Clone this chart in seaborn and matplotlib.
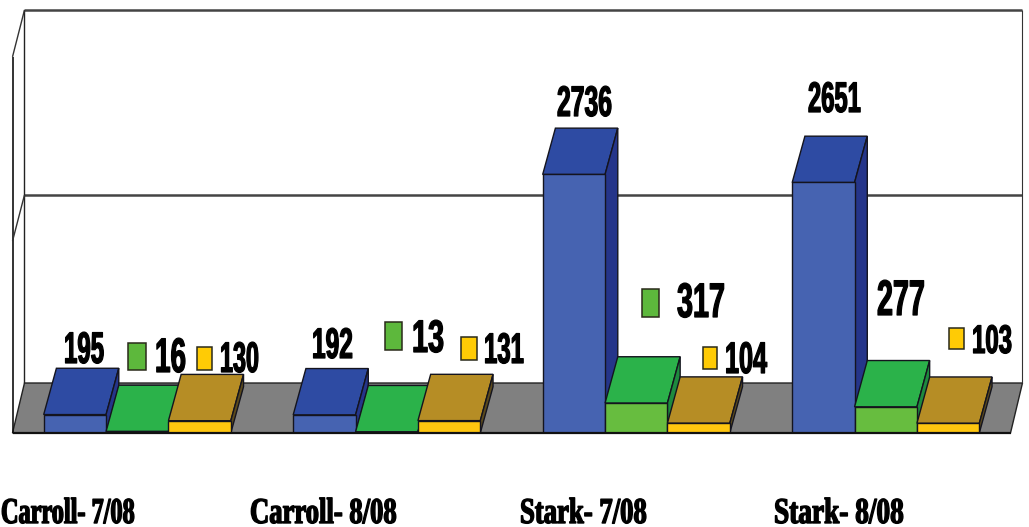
import matplotlib
matplotlib.use("Agg")
import matplotlib.pyplot as plt
import pandas as pd
import seaborn as sns
from matplotlib.patches import Polygon, Rectangle
from matplotlib.patheffects import AbstractPathEffect
from matplotlib.transforms import Affine2D

# ---------- data ----------
sites = ["Carroll- 7/08", "Carroll- 8/08", "Stark- 7/08", "Stark- 8/08"]
series_names = ["Series A", "Series B", "Series C"]
series_a = [195, 192, 2736, 2651]
series_b = [16, 13, 317, 277]
series_c = [130, 131, 104, 103]

# ---------- style ----------
W, H = 1029, 527
FRONT = ["#4663B1", "#67BD3F", "#FFC60F"]
TOP = ["#2E4BA3", "#2BB24A", "#B68D25"]
SIDE = ["#25358A", "#1E8A3E", "#5C4A1C"]
KEY_GREEN, KEY_YELLOW = "#5DB83C", "#FFCB05"
EDGE = "#14141E"
DEPTH_X, DEPTH_Y = 0.051, 490          # bar depth, in axis units
FRAME_X = 0.048
FLOOR_DEPTH, TOP_DEPTH = 529, 496      # frame depth, in axis units
WALL_TOP, GRID_BACK, GRID_FRONT = 3980, 2519, 2030

# label boxes in image pixels: left, right, baseline, top
label_a = [(64, 104, 363, 332), (312, 353, 358, 328), (557, 612, 116, 86), (808, 861, 112, 82)]
label_b = [(155, 186, 372, 338), (412, 444, 352, 320), (677, 725, 317, 283), (877, 925, 315, 280)]
label_c = [(220, 259, 372, 342), (484, 524, 363, 333), (725, 767, 373, 342), (972, 1012, 353, 325)]
# legend keys in image pixels: left, right, top, bottom
keys_b = [(128, 146, 343, 370), (385, 402, 322, 350), (642, 659, 289, 317), None]
keys_c = [(197, 212, 347, 370), (461, 477, 337, 360), (703, 717, 347, 369), (949, 964, 328, 349)]
# tick label boxes: left, right
tick_boxes = [(1, 135), (250, 397), (520, 647), (774, 904)]
TICK_BASE, TICK_CAP = 523, 499


class Stretch(AbstractPathEffect):
    """Draw text taller than its font size, with a thin outline."""
    def __init__(self, sy, lw=0.0):
        super().__init__()
        self.sy, self.lw = sy, lw

    def draw_path(self, renderer, gc, tpath, affine, rgbFace=None):
        gc0 = renderer.new_gc()
        gc0.copy_properties(gc)
        gc0.set_linewidth(self.lw)
        gc0.set_foreground(rgbFace if rgbFace is not None else "black")
        renderer.draw_path(gc0, tpath, Affine2D().scale(1, self.sy) + affine, rgbFace)
        gc0.restore()


sns.set_theme(style="white")
fig = plt.figure(figsize=(W / 100, H / 100), dpi=100, facecolor="white")
ax = fig.add_axes([12.5 / W, (H - 433) / H, (1010.5 - 12.5) / W, (433 - 55) / H])

df = pd.DataFrame({
    "site": sites * 3,
    "series": [n for n in series_names for _ in sites],
    "count": series_a + series_b + series_c,
})
sns.barplot(data=df, x="site", y="count", hue="series", palette=FRONT, saturation=1,
            width=0.75, gap=0, dodge=True, legend=False, edgecolor=EDGE, linewidth=1, ax=ax)
ax.set_xlim(-0.5, 3.5)
ax.set_ylim(0, 4000)
ax.set_xlabel("")
ax.set_ylabel("")
ax.set_yticks([])
ax.patch.set_visible(False)
for s in ax.spines.values():
    s.set_visible(False)

# ---------- frame ----------
x0, x1 = -0.5, 3.5
def frame_line(xs, ys, color="#111111", lw=1.0, z=1.5):
    ax.plot(xs, ys, color=color, lw=lw, clip_on=False, zorder=z, solid_capstyle="butt")

ax.add_patch(Polygon([(x0, 0), (x1, 0), (x1 + FRAME_X, FLOOR_DEPTH), (x0 + FRAME_X, FLOOR_DEPTH)],
                     closed=True, fc="#808080", ec="#222222", lw=1.0, clip_on=False, zorder=1))
frame_line([x0 + FRAME_X, x1 + FRAME_X], [WALL_TOP + TOP_DEPTH] * 2, "#444444", 1.8)
frame_line([x0 + FRAME_X, x1 + FRAME_X], [GRID_BACK] * 2, "#444444", 1.8)
frame_line([x0 + FRAME_X, x0 + FRAME_X], [FLOOR_DEPTH, WALL_TOP + TOP_DEPTH], "#222222", 1.0)
frame_line([x1 + FRAME_X, x1 + FRAME_X], [FLOOR_DEPTH, WALL_TOP + TOP_DEPTH], "#333333", 0.8)
frame_line([x0, x0], [0, WALL_TOP], "#111111", 1.2)
frame_line([x0, x0 + FRAME_X], [WALL_TOP, WALL_TOP + TOP_DEPTH], "#333333", 1.0)
frame_line([x0, x0 + FRAME_X], [GRID_FRONT, GRID_BACK], "#333333", 1.0)
frame_line([x0, x1], [0, 0], "#111111", 1.6, z=60)

# ---------- 3D faces, built from the bars seaborn drew ----------
z = 10.0
n_cat = len(sites)
for i_cat in range(n_cat):
    for i_ser, cont in enumerate(ax.containers):
        bar = cont[i_cat]
        l, r, h = bar.get_x(), bar.get_x() + bar.get_width(), bar.get_height()
        ax.add_patch(Polygon([(l, h), (r, h), (r + DEPTH_X, h + DEPTH_Y), (l + DEPTH_X, h + DEPTH_Y)],
                             closed=True, fc=TOP[i_ser], ec=EDGE, lw=1, clip_on=False, zorder=z))
        ax.add_patch(Polygon([(r, 0), (r + DEPTH_X, DEPTH_Y), (r + DEPTH_X, h + DEPTH_Y), (r, h)],
                             closed=True, fc=SIDE[i_ser], ec=EDGE, lw=1, clip_on=False, zorder=z + 0.1))
        bar.set_zorder(z + 0.2)
        z += 1

# ---------- labels ----------
px = Affine2D().scale(1, -1).translate(0, H)
renderer = fig.canvas.get_renderer()
NUM_FONT = ["Liberation Sans Narrow", "Liberation Sans"]


def fit(text, target_w, full_size, lw):
    """Give a text the font size that makes it target_w wide, then stretch it to full height."""
    text.set_fontsize(full_size)
    natural = text.get_window_extent(renderer).width
    ratio = target_w / natural
    text.set_fontsize(full_size * ratio)
    text.set_path_effects([Stretch(1 / ratio, lw)])


for values, boxes in ((series_a, label_a), (series_b, label_b), (series_c, label_c)):
    for v, (l, r, base, top) in zip(values, boxes):
        t = ax.text(l, base, str(v), transform=px, family=NUM_FONT, weight="bold",
                    color="black", ha="left", va="baseline", zorder=100, clip_on=False)
        fit(t, r - l, (base - top) / 0.70 * 72 / 100, 0.9)

for boxes, colour in ((keys_b, KEY_GREEN), (keys_c, KEY_YELLOW)):
    for box in boxes:
        if box is None:
            continue
        l, r, top, bottom = box
        ax.add_patch(Rectangle((l, top), r - l, bottom - top, transform=px, fc=colour,
                               ec="#2A2A1A", lw=1.1, clip_on=False, zorder=99))

# ---------- category labels (real tick labels) ----------
ax.tick_params(axis="x", length=0, pad=0, bottom=False)
ax.set_xticks(range(n_cat), sites)
tick_size = (TICK_BASE - TICK_CAP) / 0.66 * 72 / 100
for tick_x, lab, (l, r) in zip(range(n_cat), ax.get_xticklabels(), tick_boxes):
    lab.set_family(["Liberation Serif", "DejaVu Serif"])
    lab.set_weight("bold")
    lab.set_color("black")
    lab.set_ha("left")
    lab.set_va("baseline")
    tick_px = ax.transData.transform((tick_x, 0))[0]
    lab.set_transform(lab.get_transform() + Affine2D().translate(l - tick_px, -(TICK_BASE - 433)))
    fit(lab, r - l, tick_size, 1.0)

fig.savefig("out.png", dpi=100, facecolor="white")
